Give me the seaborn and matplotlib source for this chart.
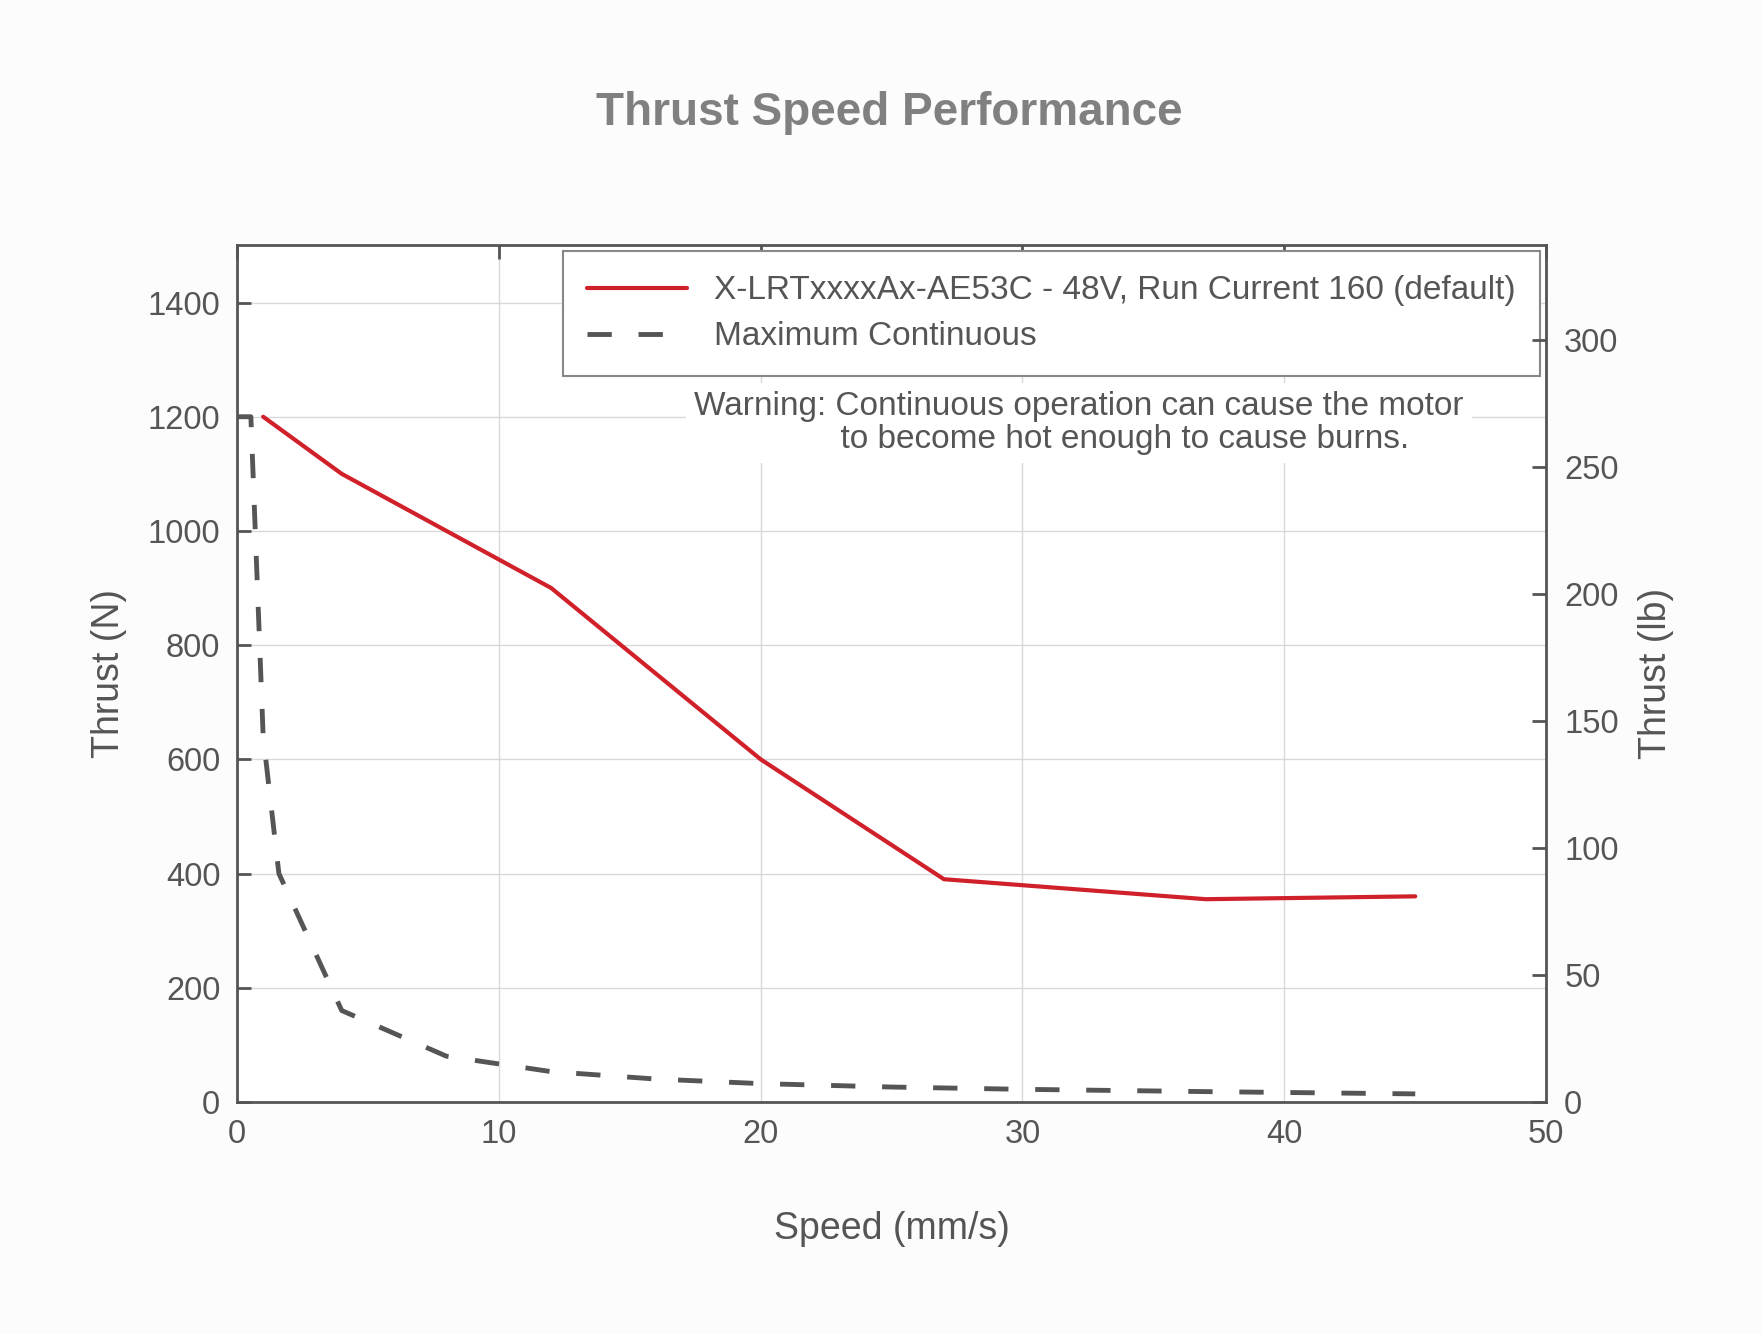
import matplotlib
matplotlib.use("Agg")
import matplotlib.pyplot as plt
import seaborn as sns
import pandas as pd

# red curve: rated thrust vs speed
speed = [1, 4, 12, 20, 27, 37, 45]
thrust = [1200, 1100, 900, 600, 390, 355, 360]

# dashed curve: maximum continuous thrust
cont_speed = [0, 0.53, 1, 1.6, 4, 8, 12, 16, 20, 25, 30, 37, 45]
cont_thrust = [1200, 1200, 640, 400, 160, 80, 53, 40, 32, 26, 22, 18, 14]

label_main = "X-LRTxxxxAx-AE53C - 48V, Run Current 160 (default)"
label_cont = "Maximum Continuous"
N_PER_LB = 4.44822

sns.set_style("white")
plt.rcParams['font.family'] = ['Liberation Sans', 'DejaVu Sans']
txt = '#555555'

fig = plt.figure(figsize=(17.62, 13.34), dpi=100, facecolor='#fcfcfc')
ax = fig.add_axes([0.1345, 0.174, 0.743, 0.642])
ax.set_facecolor('white')

df1 = pd.DataFrame({'speed': speed, 'thrust': thrust})
df2 = pd.DataFrame({'speed': cont_speed, 'thrust': cont_thrust})
sns.lineplot(data=df1, x='speed', y='thrust', ax=ax, color='#d0202a', lw=3,
             label=label_main, sort=False)
sns.lineplot(data=df2, x='speed', y='thrust', ax=ax, color='#555555', lw=3.5,
             dashes=False, label=label_cont, sort=False)
ax.lines[1].set_dashes([5, 5.5])

ax.set_xlim(0, 50)
ax.set_ylim(0, 1500)
ax.set_xticks(range(0, 51, 10))
ax.set_yticks(range(0, 1401, 200))
ax.grid(True, color='#d8d8d8', lw=1)
for s in ax.spines.values():
    s.set_color('#555555')
    s.set_linewidth(2)
ax.tick_params(direction='in', length=10, width=2, color='#555555',
               labelcolor=txt, labelsize=23.5, top=True, pad=12)
ax.set_xlabel("Speed (mm/s)", fontsize=27, color=txt, labelpad=44)
ax.set_ylabel("Thrust (N)", fontsize=27, color=txt, labelpad=15)

ax2 = ax.twinx()
ax2.set_ylim(0, 1500 / N_PER_LB)
ax2.set_yticks(range(0, 301, 50))
ax2.tick_params(direction='in', length=10, width=2, color='#555555',
                labelcolor=txt, labelsize=23.5, pad=13)
for s in ax2.spines.values():
    s.set_visible(False)
ax2.set_ylabel("Thrust (lb)", fontsize=27, color=txt, labelpad=14)

leg = ax.legend(loc='upper right', fontsize=24, frameon=True, fancybox=False,
                edgecolor='#888888', framealpha=1, handlelength=3.0,
                handletextpad=0.8, borderpad=0.72, labelspacing=0.45,
                borderaxespad=0, bbox_to_anchor=(0.995, 0.993))
leg.get_frame().set_linewidth(1.5)
for t in leg.get_texts():
    t.set_color(txt)
leg.set_zorder(5)

ax.text(0.643, 0.83, "Warning: Continuous operation can cause the motor\n"
        "          to become hot enough to cause burns.",
        transform=ax.transAxes, ha='center', va='top', fontsize=24, color=txt,
        linespacing=1.08, zorder=6,
        bbox=dict(facecolor='white', edgecolor='none', pad=6))

fig.suptitle("Thrust Speed Performance", fontsize=33, fontweight='bold',
             color='#808080', y=0.932, x=0.505)

fig.savefig("out.png", dpi=100, facecolor=fig.get_facecolor())
